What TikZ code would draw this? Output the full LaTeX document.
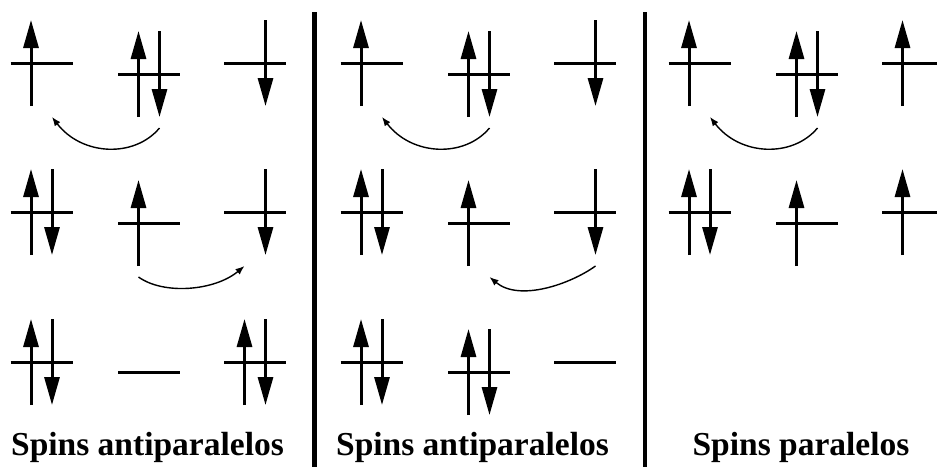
\documentclass[tikz,border=0pt]{standalone}
\usepackage{fontspec}
\setmainfont{Liberation Serif}
\usetikzlibrary{arrows.meta}

% one orbital: name, x, y, up electron (1/0), down electron (1/0)
\newcommand{\orb}[5]{%
  \coordinate (#1) at (#2,#3);
  \coordinate (#1-u) at ([shift={(-10.5,54)}]#1);
  \coordinate (#1-d) at ([shift={(10.5,54)}]#1);
  \draw[level] ([xshift=-31pt]#1) -- ([xshift=31pt]#1);
  \ifnum#4=1 \draw[spin] ([shift={(-10.5,43)}]#1) -- ([shift={(-10.5,-43)}]#1);\fi
  \ifnum#5=1 \draw[spin] ([shift={(10.5,-43)}]#1) -- ([shift={(10.5,43)}]#1);\fi
}

\tikzset{
  level/.style={line width=3pt},
  spin/.style={line width=3pt,-{Triangle[length=28pt,width=15pt]}},
  hop/.style={line width=1.4pt,-{Latex[length=9pt,width=7pt]}},
  divider/.style={line width=4.5pt},
  spinsname/.style={font=\bfseries\fontsize{33.5}{40}\selectfont,anchor=base}
}

\begin{document}
\begin{tikzpicture}[x=1pt,y=-1pt]
  \useasboundingbox (0,0) rectangle (937,467);
  % panel 1
  \orb{p1r1a}{41.5}{63}{1}{0}
  \orb{p1r1b}{149}{74}{1}{1}
  \orb{p1r1c}{255}{63}{0}{1}
  \orb{p1r2a}{41.5}{212}{1}{1}
  \orb{p1r2b}{149}{223}{1}{0}
  \orb{p1r2c}{255}{212}{0}{1}
  \orb{p1r3a}{41.5}{362}{1}{1}
  \orb{p1r3b}{149}{372}{0}{0}
  \orb{p1r3c}{255}{362}{1}{1}
  \draw[hop] (p1r1b-d) .. controls +(-25,30) and +(30,39) .. (p1r1a-d);
  \draw[hop] (p1r2b-u) .. controls +(25,18) and +(-30,25) .. (p1r2c-u);
  \node[spinsname] (t1) at (147.5,455) {Spins antiparalelos};
  % panel 2
  \orb{p2r1a}{371.5}{63}{1}{0}
  \orb{p2r1b}{479}{74}{1}{1}
  \orb{p2r1c}{585}{63}{0}{1}
  \orb{p2r2a}{371.5}{212}{1}{1}
  \orb{p2r2b}{479}{223}{1}{0}
  \orb{p2r2c}{585}{212}{0}{1}
  \orb{p2r3a}{371.5}{362}{1}{1}
  \orb{p2r3b}{479}{372}{1}{1}
  \orb{p2r3c}{585}{362}{0}{0}
  \draw[hop] (p2r1b-d) .. controls +(-25,30) and +(30,39) .. (p2r1a-d);
  \draw[hop] (p2r2c-d) .. controls +(-25,18) and +(30,25) .. (p2r2b-d);
  \node[spinsname] (t2) at (472.5,455) {Spins antiparalelos};
  % panel 3
  \orb{p3r1a}{699.5}{63}{1}{0}
  \orb{p3r1b}{807}{74}{1}{1}
  \orb{p3r1c}{913}{63}{1}{0}
  \orb{p3r2a}{699.5}{212}{1}{1}
  \orb{p3r2b}{807}{223}{1}{0}
  \orb{p3r2c}{913}{212}{1}{0}
  \draw[hop] (p3r1b-d) .. controls +(-25,30) and +(30,39) .. (p3r1a-d);
  \node[spinsname] (t3) at (801,455) {Spins paralelos};
  % separators
  \draw[divider] (314.5,12) -- (314.5,467);
  \draw[divider] (645,12) -- (645,467);
\end{tikzpicture}
\end{document}
